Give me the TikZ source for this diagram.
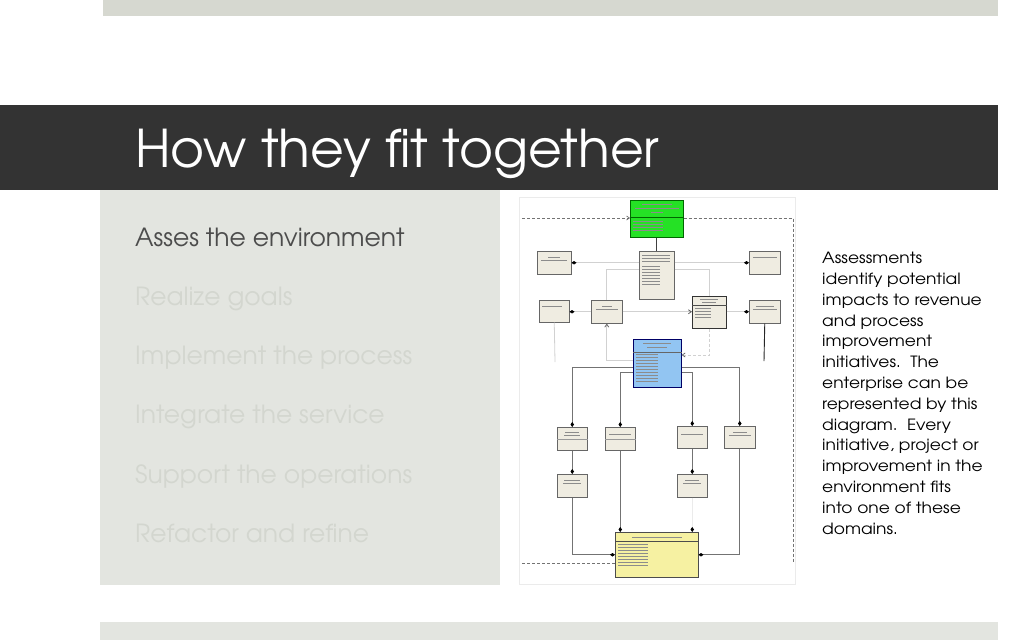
\documentclass[tikz,border=0pt]{standalone}
\usepackage{fontspec}
\setmainfont{TeX Gyre Adventor}
\newfontfamily\widegothic[FakeStretch=1.1]{TeX Gyre Adventor}
\usetikzlibrary{arrows.meta,shadows}

\definecolor{barlight}{HTML}{D6D8D0}
\definecolor{panelgray}{HTML}{E3E5E0}
\definecolor{titledark}{HTML}{333333}
\definecolor{fadedtext}{HTML}{D3D6CF}
\definecolor{boxcream}{HTML}{EFECE1}
\definecolor{umlgreen}{HTML}{25E125}
\definecolor{umlblue}{HTML}{92C5F2}
\definecolor{umlyellow}{HTML}{F6F1A2}

\tikzset{
  umlbox/.style={draw=black!60, fill=boxcream, line width=0.5pt, inner sep=0pt, anchor=north west,
    drop shadow={shadow xshift=1pt, shadow yshift=-1pt, opacity=0.35}},
  fuzz/.style={draw=black!45, line width=0.6pt},
  greyline/.style={draw=black!18, line width=0.8pt},
  midline/.style={draw=black!55, line width=0.8pt},
  comp/.style={-{Diamond[length=5pt,width=3.5pt,color=black]}},
  openarr/.style={-{Straight Barb[length=3pt,width=4pt,color=black!60]}},
  frameline/.style={draw=black!55, densely dashed, line width=0.6pt},
  itemtext/.style={anchor=base west, font=\fontsize{25}{30}\selectfont, text=fadedtext, inner sep=0pt},
}

% blurred text rows inside a box
\newcommand{\fuzz}[4]{%
  \foreach \k in {1,...,#3}
    \draw[fuzz] ([xshift=3pt,yshift=-#2pt-\k*3pt]#1.north west) -- ++(#4,0);}
\newcommand{\fuzzc}[3]{%
  \draw[fuzz] ([yshift=-#2pt]#1.north) ++(-#3/2,0) -- ++(#3,0);}

\begin{document}
\begin{tikzpicture}[x=1pt,y=-1pt]
\useasboundingbox (0,0) rectangle (1024,640);

% Slide background
\fill[barlight] (103,0) rectangle (998,16);
\fill[titledark] (0,105) rectangle (998,190);
\fill[panelgray] (100,190) rectangle (500,585);
\fill[panelgray] (100,622) rectangle (998,640);

% Title
\node[anchor=base west, text=white, font=\fontsize{52}{60}\selectfont, inner sep=0pt] (title) at (135,167.5) {How they fit together};

% Left list
\node[itemtext, text=black!70] (asses) at (135,246) {Asses the environment};
\node[itemtext] (realize) at (135,305) {Realize goals};
\node[itemtext] (implement) at (135,364) {Implement the process};
\node[itemtext] (integrate) at (135,423) {Integrate the service};
\node[itemtext] (support) at (135,483) {Support the operations};
\node[itemtext] (refactor) at (135,542) {Refactor and refine};

% Right note
\node[anchor=north west, align=left, font=\widegothic\fontsize{15.5}{20.8}\selectfont, inner sep=0pt] (note) at (822,252) {Assessments\\identify potential\\impacts to revenue\\and process\\improvement\\initiatives.\ \ The\\enterprise can be\\represented by this\\diagram.\ \ Every\\initiative, project or\\improvement in the\\environment fits\\into one of these\\domains.};

% Embedded diagram
\draw[black!8, fill=white] (519,197) rectangle (795,584);

% Boxes
\node[umlbox, fill=umlgreen, draw=green!40!black, minimum width=53pt, minimum height=37pt] (gr) at (630,200) {};
\node[umlbox, minimum width=34pt, minimum height=23pt] (tl) at (537,251) {};
\node[umlbox, minimum width=31pt, minimum height=23pt] (tr) at (749,251) {};
\node[umlbox, minimum width=35pt, minimum height=48pt] (ce) at (639,251) {};
\node[umlbox, minimum width=30pt, minimum height=22pt] (r2a) at (539,300) {};
\node[umlbox, minimum width=31pt, minimum height=23pt] (r2b) at (591,300) {};
\node[umlbox, draw=black!80, minimum width=34pt, minimum height=32pt] (req) at (692,296) {};
\node[umlbox, minimum width=31pt, minimum height=23pt] (r2d) at (749,300) {};
\node[umlbox, fill=umlblue, draw=blue!40!black, minimum width=48pt, minimum height=48pt] (bl) at (633,339) {};
\node[umlbox, minimum width=30pt, minimum height=23pt] (A) at (557,427) {};
\node[umlbox, minimum width=30pt, minimum height=23pt] (B) at (605,427) {};
\node[umlbox, minimum width=30pt, minimum height=22pt] (C) at (677,426) {};
\node[umlbox, minimum width=31pt, minimum height=22pt] (D) at (724,426) {};
\node[umlbox, minimum width=30pt, minimum height=23pt] (E) at (557,474) {};
\node[umlbox, minimum width=30pt, minimum height=23pt] (F) at (677,474) {};
\node[umlbox, fill=umlyellow, draw=black!70, minimum width=83pt, minimum height=45pt] (ye) at (615,532) {};

% Header separators
\draw[green!40!black] ([yshift=-17pt]gr.north west) -- ([yshift=-17pt]gr.north east);
\draw[black!70] ([yshift=-9pt]req.north west) -- ([yshift=-9pt]req.north east);
\draw[black!60] ([yshift=-13pt]bl.north west) -- ([yshift=-13pt]bl.north east);
\draw[black!70] ([yshift=-9pt]ye.north west) -- ([yshift=-9pt]ye.north east);
\draw[black!40] ([yshift=-12pt]A.north west) -- ([yshift=-12pt]A.north east);
\draw[black!40] ([yshift=-12pt]B.north west) -- ([yshift=-12pt]B.north east);

% Blurred labels
\fuzzc{gr}{4}{30} \fuzzc{gr}{8}{44} \fuzzc{gr}{12}{12}
\fuzz{gr}{18}{4}{30}
\fuzzc{tl}{6}{12} \fuzzc{tl}{9}{26}
\fuzzc{tr}{6}{24}
\fuzz{ce}{1}{3}{28} \fuzz{ce}{12}{7}{18}
\fuzz{r2a}{3}{1}{20}
\fuzzc{r2b}{6}{10} \fuzzc{r2b}{9}{22}
\fuzzc{req}{3}{18} \fuzzc{req}{6}{14}
\fuzz{req}{9}{4}{16}
\fuzzc{r2d}{6}{18} \fuzzc{r2d}{9}{24}
\fuzzc{bl}{4}{28} \fuzzc{bl}{8}{20}
\fuzz{bl}{12}{10}{22}
\fuzzc{A}{5}{14} \fuzzc{A}{8}{16}
\fuzzc{B}{7}{22}
\fuzzc{C}{8}{22}
\fuzzc{D}{6}{14} \fuzzc{D}{9}{22}
\fuzzc{E}{6}{16} \fuzzc{E}{9}{18}
\fuzzc{F}{6}{14} \fuzzc{F}{9}{18}
\fuzzc{ye}{5}{50}
\fuzz{ye}{9}{8}{30}

% Dashed frame
\coordinate (frTL) at (522,218);
\coordinate (frTR) at (793,218);
\coordinate (frBR) at (793,563);
\coordinate (frBL) at (522,563);
\draw[frameline, openarr] (frTL) -- (gr.west |- frTL);
\draw[frameline] (gr.east |- frTR) -- (frTR) -- (frBR);
\draw[frameline] (frBL) -- (ye.west |- frBL);

% Top connectors
\draw[midline, draw=black!75] (gr.south) -- (ce.north);
\draw[greyline, comp] (ce.west |- tl.east) -- (tl.east);
\draw[greyline, comp] (ce.east |- tr.west) -- (tr.west);
\draw[greyline] ([yshift=-18pt]ce.north west) -| (r2b.north);
\draw[greyline] ([yshift=-18pt]ce.north east) -| (req.north);

% Second row
\draw[greyline, comp] (r2b.west) -- (r2a.east |- r2b.west);
\draw[greyline, openarr] (r2b.east) -- (req.west |- r2b.east);
\draw[greyline, comp] (req.east |- r2d.west) -- (r2d.west);
\coordinate (bendL) at (606,360);
\coordinate (bendR) at (709,355);
\coordinate (endA) at (555,362);
\coordinate (endD) at (764,361);
\draw[greyline, openarr] (bl.west |- bendL) -| (r2b.south);
\draw[greyline, densely dashed, openarr] (req.south) |- (bl.east |- bendR);
\draw[greyline] (r2a.south) -- (endA);
\draw[black!85, line width=0.9pt] (r2d.south) -- (endD);

% From the blue box
\draw[midline, comp] ([yshift=-28pt]bl.north west) -| (A.north);
\draw[midline, comp] ([yshift=-33pt]bl.north west) -| (B.north);
\draw[midline, comp] ([yshift=-33pt]bl.north east) -| (C.north);
\draw[midline, comp] ([yshift=-28pt]bl.north east) -| (D.north);

% Lower rows
\draw[midline, comp] (A.south) -- (E.north);
\draw[midline, comp] (C.south) -- (F.north);
\draw[midline, comp] (E.south) |- (ye.west);
\draw[midline, comp] (B.south) -- (B.south |- ye.north);
\draw[greyline, draw=black!8, comp] (F.south) -- (F.south |- ye.north);
\draw[midline, comp] (D.south) |- (ye.east);

\end{tikzpicture}
\end{document}
